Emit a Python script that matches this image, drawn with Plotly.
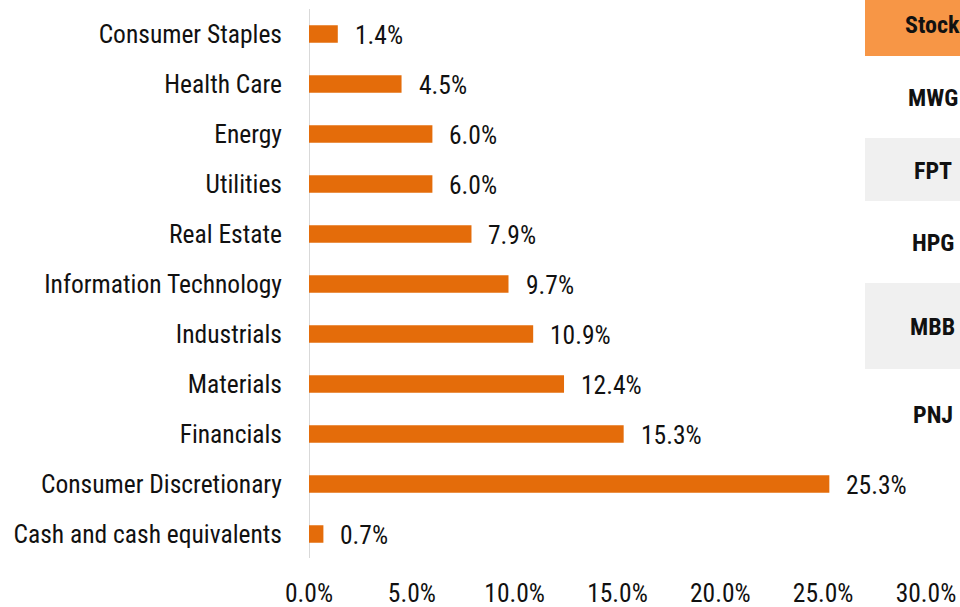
import plotly.graph_objects as go

categories = ["Cash and cash equivalents", "Consumer Discretionary", "Financials", "Materials",
              "Industrials", "Information Technology", "Real Estate", "Utilities", "Energy",
              "Health Care", "Consumer Staples"]
values = [0.7, 25.3, 15.3, 12.4, 10.9, 9.7, 7.9, 6.0, 6.0, 4.5, 1.4]
x_ticks = [0, 5, 10, 15, 20, 25, 30]
stocks = ["MWG", "FPT", "HPG", "MBB", "PNJ"]

FONT = "Roboto Condensed, Liberation Sans Narrow, Roboto, sans-serif"
FS = 25.5
W, H = 960, 607
ML, MR, MT, MB = 309, 34, 9, 48
PW, PH = W - ML - MR, H - MT - MB

def px(x):
    return (x - ML) / PW

def py(y):
    return (H - MB - y) / PH

fig = go.Figure()
fig.add_trace(go.Bar(
    y=categories, x=values, orientation="h",
    marker=dict(color="#E46C0A", line=dict(width=0)),
    width=0.35, hoverinfo="x+y",
))

annotations = []
for c, v in zip(categories, values):
    annotations.append(dict(x=v, y=c, xref="x", yref="y", text=f"{v:.1f}%",
                            showarrow=False, xanchor="left", xshift=15, yshift=-1,
                            font=dict(family=FONT, size=FS, color="#111111")))

shapes = [
    dict(type="rect", xref="paper", yref="paper", x0=px(865), x1=px(962), y0=py(56), y1=py(-2),
         fillcolor="#F79646", line=dict(width=0), layer="above"),
    dict(type="rect", xref="paper", yref="paper", x0=px(865), x1=px(962), y0=py(201), y1=py(138),
         fillcolor="#F0F0F0", line=dict(width=0), layer="above"),
    dict(type="rect", xref="paper", yref="paper", x0=px(865), x1=px(962), y0=py(369), y1=py(283),
         fillcolor="#F0F0F0", line=dict(width=0), layer="above"),
    dict(type="line", xref="x", yref="paper", x0=0, x1=0, y0=py(558), y1=py(9),
         line=dict(color="#D9D9D9", width=2), layer="below"),
]

header_y = 25
row_y = [98, 171, 243, 327, 415]
annotations.append(dict(x=px(933), y=py(header_y), xref="paper", yref="paper", text="<b>Stock</b>",
                        showarrow=False, xanchor="center", yanchor="middle",
                        font=dict(family=FONT, size=24, color="#111111")))
for s, yy in zip(stocks, row_y):
    annotations.append(dict(x=px(933), y=py(yy), xref="paper", yref="paper", text=f"<b>{s}</b>",
                            showarrow=False, xanchor="center", yanchor="middle",
                            font=dict(family=FONT, size=24, color="#111111")))

fig.update_layout(
    width=W, height=H,
    margin=dict(l=ML, r=MR, t=MT, b=MB, autoexpand=False),
    paper_bgcolor="white", plot_bgcolor="white",
    showlegend=False,
    font=dict(family=FONT, size=FS, color="#111111"),
    xaxis=dict(range=[0, 30], tickvals=x_ticks, ticktext=[f"{t:.1f}%" for t in x_ticks],
               showgrid=False, zeroline=False, showline=False, ticks="", automargin=False,
               ticklabelstandoff=16, tickfont=dict(family=FONT, size=FS, color="#111111")),
    yaxis=dict(categoryorder="array", categoryarray=categories, range=[-0.5, 10.5],
               showgrid=False, zeroline=False, showline=False, ticks="", automargin=False,
               ticklabelstandoff=26, tickfont=dict(family=FONT, size=FS, color="#111111")),
    annotations=annotations,
    shapes=shapes,
)

fig.write_html("out.html", config={"displayModeBar": False},
               post_script="document.body.style.margin='0';document.body.style.overflow='hidden';")
